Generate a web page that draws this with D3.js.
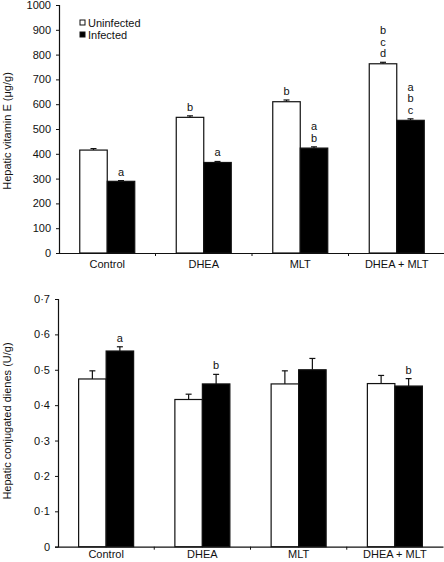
<!DOCTYPE html>
<html><head><meta charset="utf-8">
<script src="https://cdn.jsdelivr.net/npm/d3@7"></script>
<style>
html,body{margin:0;padding:0;background:#fff;}
text{font-family:"Liberation Sans",Arial,Helvetica,sans-serif;fill:#111;}
</style></head>
<body>
<svg id="chart" width="444" height="562"></svg>
<script>
const categories = ["Control", "DHEA", "MLT", "DHEA + MLT"];
const seriesNames = ["Uninfected", "Infected"];

// Panel A: hepatic vitamin E
const vitEUninfected = [415, 547, 610, 763];
const vitEUninfectedErr = [6, 6, 7, 6];
const vitEInfected = [289, 365, 423, 535];
const vitEInfectedErr = [3, 4, 5, 6];
const vitEUninfectedLetters = [[], ["b"], ["b"], ["b", "c", "d"]];
const vitEInfectedLetters = [["a"], ["a"], ["a", "b"], ["a", "b", "c"]];
const vitETicks = [0, 100, 200, 300, 400, 500, 600, 700, 800, 900, 1000];

// Panel B: hepatic conjugated dienes
const cdUninfected = [0.474, 0.416, 0.46, 0.461];
const cdUninfectedErr = [0.023, 0.015, 0.037, 0.023];
const cdInfected = [0.553, 0.46, 0.5, 0.454];
const cdInfectedErr = [0.012, 0.027, 0.032, 0.021];
const cdUninfectedLetters = [[], [], [], []];
const cdInfectedLetters = [["a"], ["b"], [], ["b"]];
const cdTicks = [0, 0.1, 0.2, 0.3, 0.4, 0.5, 0.6, 0.7];

const svg = d3.select("#chart");
const ink = "#111";
const FONT = '"Liberation Sans",Arial,Helvetica,sans-serif';

function panel(opts) {
  const g = svg.append("g");
  const x = d3.scaleBand().domain(categories).range(opts.xRange).padding(0);
  const y = d3.scaleLinear().domain(opts.yDomain).range(opts.yRange);
  const barW = opts.barW;

  // y axis
  const yAxis = d3.axisLeft(y).tickValues(opts.ticks).tickSize(3).tickPadding(5).tickFormat(opts.fmt);
  const ya = g.append("g").attr("transform", `translate(${opts.xRange[0]},0)`).call(yAxis);
  ya.select(".domain").attr("stroke", ink).attr("stroke-width", 1.2);
  ya.selectAll(".tick line").attr("stroke", ink);
  ya.selectAll(".tick text").attr("font-size", 11).attr("fill", ink).style("font-family", FONT);

  // x axis
  const base = y(0);
  const xa = g.append("g").attr("transform", `translate(0,${base})`)
    .call(d3.axisBottom(x).tickSize(0).tickPadding(opts.xPad));
  xa.select(".domain").attr("stroke", ink).attr("stroke-width", 1.2);
  xa.selectAll(".tick text").attr("font-size", 11).attr("fill", ink).style("font-family", FONT);
  // small separator ticks between groups
  g.selectAll(".sep").data(categories.slice(1)).enter().append("line")
    .attr("x1", d => x(d)).attr("x2", d => x(d))
    .attr("y1", base).attr("y2", base + 3).attr("stroke", ink);

  const sets = [
    {vals: opts.uninf, errs: opts.uninfErr, letters: opts.uninfLetters, off: -barW, fill: "#fff"},
    {vals: opts.inf, errs: opts.infErr, letters: opts.infLetters, off: 0, fill: "#000"}
  ];
  sets.forEach(s => {
    const data = categories.map((c, i) => ({c, v: s.vals[i], e: s.errs[i], l: s.letters[i]}));
    const cx = d => x(d.c) + x.bandwidth() / 2 + s.off + barW / 2;
    const eg = g.append("g");
    eg.selectAll("line.err").data(data).enter().append("line")
      .attr("x1", cx).attr("x2", cx)
      .attr("y1", d => y(d.v)).attr("y2", d => y(d.v + d.e))
      .attr("stroke", ink).attr("stroke-width", 1.2);
    eg.selectAll("line.cap").data(data).enter().append("line")
      .attr("x1", d => cx(d) - 3).attr("x2", d => cx(d) + 3)
      .attr("y1", d => y(d.v + d.e)).attr("y2", d => y(d.v + d.e))
      .attr("stroke", ink).attr("stroke-width", 1.2);
    g.append("g").selectAll("rect").data(data).enter().append("rect")
      .attr("x", d => x(d.c) + x.bandwidth() / 2 + s.off)
      .attr("y", d => y(d.v))
      .attr("width", barW)
      .attr("height", d => base - y(d.v))
      .attr("fill", s.fill).attr("stroke", ink).attr("stroke-width", 1.2);
    // significance letters
    data.forEach(d => {
      const n = d.l.length;
      d.l.forEach((t, j) => {
        g.append("text")
          .attr("x", cx(d))
          .attr("y", y(d.v + d.e) - 5 - (n - 1 - j) * 11.5)
          .attr("text-anchor", "middle").attr("font-size", 11)
          .attr("fill", ink).style("font-family", FONT).text(t);
      });
    });
  });

  // axis title
  g.append("text").attr("transform", `translate(${opts.titleX},${opts.titleY}) rotate(-90)`)
    .attr("text-anchor", "middle").attr("font-size", 11).attr("fill", ink)
    .style("font-family", FONT).text(opts.title);
  return {x, y};
}

panel({
  xRange: [59, 445], yDomain: [0, 1000], yRange: [253, 5], barW: 27.5, xPad: 7,
  ticks: vitETicks, fmt: d3.format("d"),
  uninf: vitEUninfected, uninfErr: vitEUninfectedErr, uninfLetters: vitEUninfectedLetters,
  inf: vitEInfected, infErr: vitEInfectedErr, infLetters: vitEInfectedLetters,
  title: "Hepatic vitamin E (\u03bcg/g)", titleX: 11, titleY: 131
});

panel({
  xRange: [58, 443], yDomain: [0, 0.7], yRange: [546.7, 299], barW: 27.5, xPad: 4,
  ticks: cdTicks, fmt: d => d === 0 ? "0" : d.toFixed(1).replace(".", "\u00b7"),
  uninf: cdUninfected, uninfErr: cdUninfectedErr, uninfLetters: cdUninfectedLetters,
  inf: cdInfected, infErr: cdInfectedErr, infLetters: cdInfectedLetters,
  title: "Hepatic conjugated dienes (U/g)", titleX: 11, titleY: 421
});

// legend
const legend = svg.append("g");
seriesNames.forEach((name, i) => {
  const ly = 23 + i * 12;
  legend.append("rect").attr("x", 80).attr("y", ly - 3).attr("width", 5).attr("height", 5)
    .attr("fill", i === 0 ? "#fff" : "#000").attr("stroke", ink).attr("stroke-width", 1);
  legend.append("text").attr("x", 88).attr("y", ly + 4).attr("font-size", 11)
    .attr("fill", ink).style("font-family", FONT).text(name);
});
</script>
</body></html>
